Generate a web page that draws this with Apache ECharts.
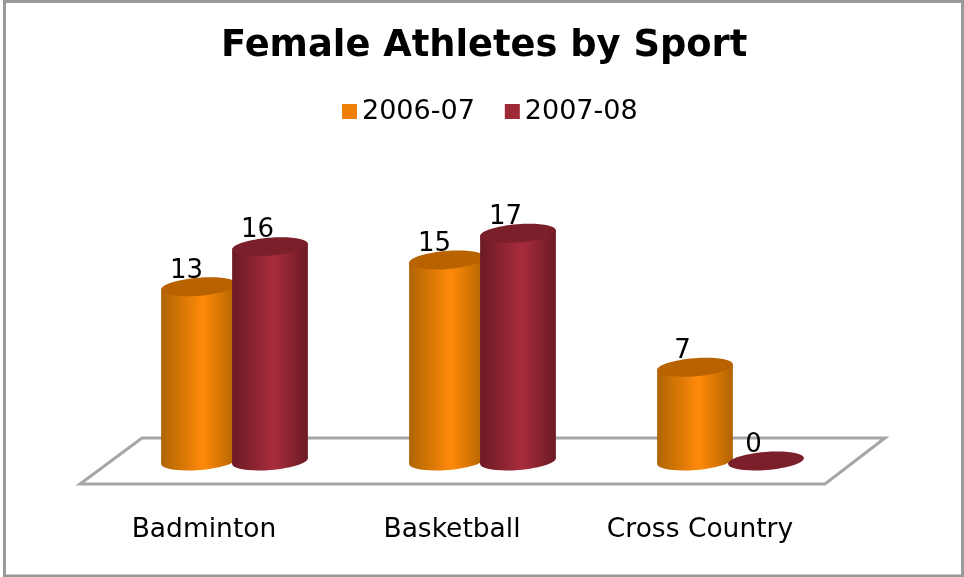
<!DOCTYPE html>
<html>
<head>
<meta charset="utf-8">
<style>
  html, body { margin: 0; padding: 0; background: #fff; }
  #chart { width: 964px; height: 577px; }
</style>
<script src="https://cdn.jsdelivr.net/npm/echarts@6/dist/echarts.min.js"></script>
</head>
<body>
<div id="chart"></div>
<script>
var categories = ['Badminton', 'Basketball', 'Cross Country']
var season1 = [13, 15, 7]
var season2 = [16, 17, 0]

var fontName = '"DejaVu Sans", sans-serif'

function gradient(edge, mid) {
  return new echarts.graphic.LinearGradient(0, 0, 1, 0, [
    { offset: 0, color: edge },
    { offset: 0.55, color: mid },
    { offset: 1, color: edge }
  ])
}

// draws one cylinder, offset is the shift from the category centre
function cylinder(offset, body, top) {
  return function (params, api) {
    var p = api.coord([api.value(0), api.value(1)])
    var base = api.coord([api.value(0), 0])
    var x = p[0] + offset
    var rx = 38, ry = 9, tilt = 0.08
    // ellipses lean a bit, so the body sides have to start at their tips
    var dx = rx * Math.cos(tilt), dy = rx * Math.sin(tilt)
    var children = []
    if (api.value(1) > 0) {
      children.push({
        type: 'ellipse',
        shape: { cx: x, cy: base[1], rx: rx, ry: ry },
        rotation: tilt, originX: x, originY: base[1],
        style: { fill: body }
      })
      children.push({
        type: 'polygon',
        shape: {
          points: [
            [x - dx, p[1] + dy],
            [x + dx, p[1] - dy],
            [x + dx, base[1] - dy],
            [x - dx, base[1] + dy]
          ]
        },
        style: { fill: body }
      })
    }
    children.push({
      type: 'ellipse',
      shape: { cx: x, cy: p[1], rx: rx, ry: ry },
      rotation: tilt, originX: x, originY: p[1],
      style: { fill: top }
    })
    children.push({
      type: 'text',
      style: {
        x: x - 12.5, y: p[1] - 16,
        text: String(api.value(1)),
        align: 'center', verticalAlign: 'middle',
        fill: '#000', font: '26px ' + fontName
      }
    })
    return { type: 'group', children: children }
  }
}

function makeSeries(name, values, offset, color, edge, mid, top) {
  return {
    name: name,
    type: 'custom',
    coordinateSystem: 'cartesian2d',
    clip: false,
    itemStyle: { color: color },
    encode: { x: 0, y: 1 },
    data: values.map(function (v, i) { return [i, v] }),
    renderItem: cylinder(offset, gradient(edge, mid), top)
  }
}

var myChart = echarts.init(document.getElementById('chart'), null, { renderer: 'canvas' })
myChart.setOption({
  animation: false,
  backgroundColor: '#fff',
  title: {
    text: 'Female Athletes by Sport',
    left: 216,
    top: 23,
    textStyle: { color: '#000', fontFamily: fontName, fontWeight: 'bold', fontSize: 36.8 }
  },
  legend: {
    top: 93,
    left: 337,
    itemWidth: 15,
    itemHeight: 15,
    itemGap: 30,
    icon: 'rect',
    textStyle: { color: '#000', fontFamily: fontName, fontSize: 27 },
    data: ['2006-07', '2007-08']
  },
  grid: { left: 110, top: 193, width: 744, height: 268 },
  xAxis: {
    type: 'category',
    data: categories,
    axisLine: { show: false },
    axisTick: { show: false },
    // labels sit left of the bars in the original, padding pushes them over
    axisLabel: {
      color: '#000',
      fontFamily: fontName,
      fontSize: 26.5,
      margin: 56,
      interval: 0,
      padding: [0, 60, 0, 0]
    }
  },
  yAxis: { type: 'value', min: 0, max: 20, show: false },
  graphic: [
    {
      type: 'rect',
      silent: true,
      z: -1,
      shape: { x: 4.5, y: 1.5, width: 958, height: 574.5 },
      style: { fill: 'none', stroke: '#999999', lineWidth: 3 }
    },
    {
      type: 'polygon',
      silent: true,
      z: -1,
      shape: { points: [[142, 438], [885, 438], [825, 484], [80, 484]] },
      style: { fill: '#fff', stroke: '#a6a6a6', lineWidth: 3 }
    }
  ],
  series: [
    makeSeries('2006-07', season1, -35, '#f07f09', '#b06400', '#ff8a0a', '#b96300'),
    makeSeries('2007-08', season2, 36, '#9f2936', '#6b1a24', '#a82c3b', '#7b1f2b')
  ]
})
</script>
</body>
</html>
